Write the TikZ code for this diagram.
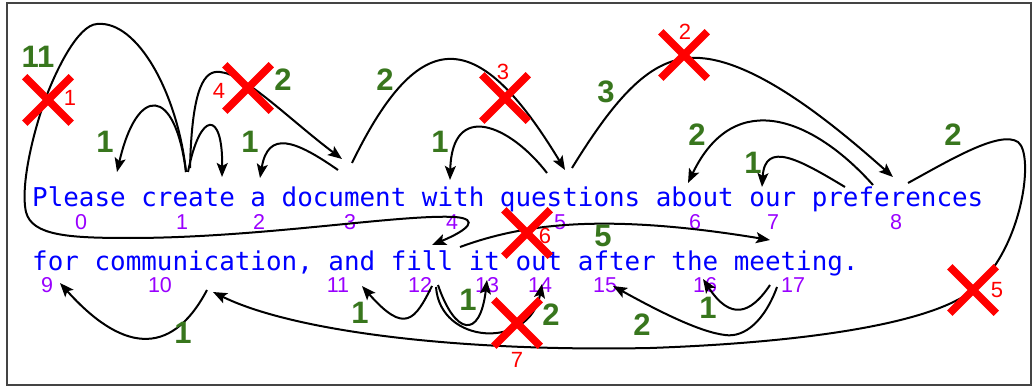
\documentclass[tikz,border=0pt]{standalone}
\usepackage{fontspec}
\setmainfont{Liberation Sans}
\newfontfamily\monofont{DejaVu Sans Mono}
\usetikzlibrary{arrows.meta,shapes.misc}
\definecolor{wblue}{HTML}{0000FF}
\definecolor{wpurple}{HTML}{9900FF}
\definecolor{wgreen}{HTML}{38761D}
\definecolor{wred}{HTML}{FF0000}
\definecolor{frame}{HTML}{444444}
\tikzset{
 sent/.style={anchor=base west, inner sep=0pt, text=wblue, font=\monofont\fontsize{25.9}{30}\selectfont},
 idx/.style={inner sep=0pt, text=wpurple, font=\fontsize{21.5}{25}\selectfont},
 wt/.style={inner sep=0pt, text=wgreen, font=\bfseries\fontsize{31}{34}\selectfont},
 rnum/.style={inner sep=0pt, text=wred, font=\fontsize{22}{26}\selectfont},
 xmark/.style={cross out, draw=wred, line width=7.5pt, minimum size=39pt, inner sep=0pt},
 arc/.style={draw=black, line width=2pt},
 arr/.style={arc, -{Stealth[length=14pt,width=11pt,inset=3pt]}},
}
\begin{document}
\begin{tikzpicture}[x=1pt,y=-1pt]
\useasboundingbox (0,0) rectangle (1032,387);
\draw[frame, line width=1.5pt] (7,3) rectangle (1031,385);

% sentence
\node[sent] (line1) at (32,207) {Please create a document with questions about our preferences};
\node[sent] (line2) at (32,270) {for communication, and fill it out after the meeting.};

% word indices
\node[idx] (w0) at (81,222) {0};
\node[idx] (w1) at (182,222) {1};
\node[idx] (w2) at (259,222) {2};
\node[idx] (w3) at (350,222) {3};
\node[idx] (w4) at (452,222) {4};
\node[idx] (w5) at (560,222) {5};
\node[idx] (w6) at (695,222) {6};
\node[idx] (w7) at (773,222) {7};
\node[idx] (w8) at (896,222) {8};
\node[idx] (w9) at (47,285) {9};
\node[idx] (w10) at (160,285) {10};
\node[idx] (w11) at (338,285) {11};
\node[idx] (w12) at (420,285) {12};
\node[idx] (w13) at (487,285) {13};
\node[idx] (w14) at (540,285) {14};
\node[idx] (w15) at (605,285) {15};
\node[idx] (w16) at (705,285) {16};
\node[idx] (w17) at (793,285) {17};

% arc end points
\coordinate (createA) at (186,172);
\coordinate (createB) at (188,172);
\coordinate (createC) at (190,168);
\coordinate (pleaseT) at (117,172);
\coordinate (aT) at (222,177);
\coordinate (aT2) at (260,178);
\coordinate (docS) at (338,170);
\coordinate (docS2) at (352,163);
\coordinate (docT) at (342,159);
\coordinate (withT) at (450,180);
\coordinate (quesS) at (547,173);
\coordinate (quesS2) at (572,168);
\coordinate (quesT) at (565,170);
\coordinate (aboutT) at (688,183);
\coordinate (ourT) at (762,187);
\coordinate (prefS1) at (873,185);
\coordinate (prefS2) at (845,187);
\coordinate (prefS3) at (908,183);
\coordinate (prefT) at (893,177);
\coordinate (forT) at (60,283);
\coordinate (commS) at (207,290);
\coordinate (commT) at (213,292);
\coordinate (andT) at (362,286);
\coordinate (fillS1) at (432,286);
\coordinate (fillS2) at (438,285);
\coordinate (fillS3) at (436,287);
\coordinate (fillS4) at (460,247);
\coordinate (fillT) at (432,245);
\coordinate (itT) at (487,280);
\coordinate (outT) at (542,284);
\coordinate (afterT) at (613,286);
\coordinate (theT) at (703,279);
\coordinate (meetS1) at (770,285);
\coordinate (meetS2) at (777,287);
\coordinate (meetT) at (770,240);

% arcs, first line
\draw[arr] (createA) .. controls (178,95) and (138,20) .. (97,24)
  .. controls (78,25) and (56,70) .. (45,100)
  .. controls (34,130) and (20,185) .. (26,212)
  .. controls (32,236) and (70,238) .. (130,238)
  .. controls (260,238) and (400,214) .. (455,217)
  .. controls (480,219) and (468,230) .. (fillT);
\draw[arr] (createA) .. controls (175,85) and (137,85) .. (pleaseT);
\draw[arr] (createB) .. controls (200,110) and (223,110) .. (aT);
\draw[arr] (createC) .. controls (192,85) and (205,70) .. (220,72)
  .. controls (245,74) and (290,120) .. (docT);
\draw[arr] (docS) .. controls (295,140) and (268,130) .. (aT2);
\draw[arr] (docS2) .. controls (420,23) and (478,26) .. (quesT);
\draw[arr] (quesS) .. controls (510,125) and (452,100) .. (withT);
\draw[arr] (quesS2) .. controls (620,90) and (655,55) .. (700,58)
  .. controls (760,62) and (840,130) .. (prefT);
\draw[arr] (prefS1) .. controls (815,120) and (735,85) .. (aboutT);
\draw[arr] (prefS2) .. controls (800,160) and (765,140) .. (ourT);
\draw[arr] (prefS3) .. controls (950,160) and (1000,130) .. (1018,142)
  .. controls (1035,155) and (1022,250) .. (973,290)
  .. controls (935,321) and (820,342) .. (650,348)
  .. controls (450,352) and (290,330) .. (commT);

% arcs, second line
\draw[arr] (commS) .. controls (170,360) and (120,350) .. (forT);
\draw[arr] (fillS1) .. controls (415,320) and (405,335) .. (andT);
\draw[arr] (fillS2) .. controls (455,335) and (480,340) .. (itT);
\draw[arr] (fillS3) .. controls (440,345) and (530,350) .. (outT);
\draw[arr] (fillS4) .. controls (520,225) and (600,212) .. (meetT);
\draw[arr] (meetS1) .. controls (750,315) and (730,320) .. (theT);
\draw[arr] (meetS2) .. controls (765,320) and (745,338) .. (725,335)
  .. controls (700,332) and (660,312) .. (afterT);

% weights
\node[wt] (g1) at (38,57) {11};
\node[wt] (g2) at (105,142) {1};
\node[wt] (g3) at (283,80) {2};
\node[wt] (g4) at (250,142) {1};
\node[wt] (g5) at (385,80) {2};
\node[wt] (g6) at (440,142) {1};
\node[wt] (g7) at (606,92) {3};
\node[wt] (g8) at (697,135) {2};
\node[wt] (g9) at (753,163) {1};
\node[wt] (g10) at (953,135) {2};
\node[wt] (g11) at (603,236) {5};
\node[wt] (g12) at (183,333) {1};
\node[wt] (g13) at (360,313) {1};
\node[wt] (g14) at (468,300) {1};
\node[wt] (g15) at (551,315) {2};
\node[wt] (g16) at (642,325) {2};
\node[wt] (g17) at (708,308) {1};

% crossings
\node[xmark] (x1) at (48,100) {};
\node[rnum] (r1) at (70,98) {1};
\node[xmark] (x2) at (684,55) {};
\node[rnum] (r2) at (685,32) {2};
\node[xmark] (x3) at (505,98) {};
\node[rnum] (r3) at (503,72) {3};
\node[xmark] (x4) at (248,88) {};
\node[rnum] (r4) at (219,91) {4};
\node[xmark] (x5) at (973,290) {};
\node[rnum] (r5) at (997,290) {5};
\node[xmark] (x6) at (527,233) {};
\node[rnum] (r6) at (545,236) {6};
\node[xmark] (x7) at (517,323) {};
\node[rnum] (r7) at (517,360) {7};
\end{tikzpicture}
\end{document}
